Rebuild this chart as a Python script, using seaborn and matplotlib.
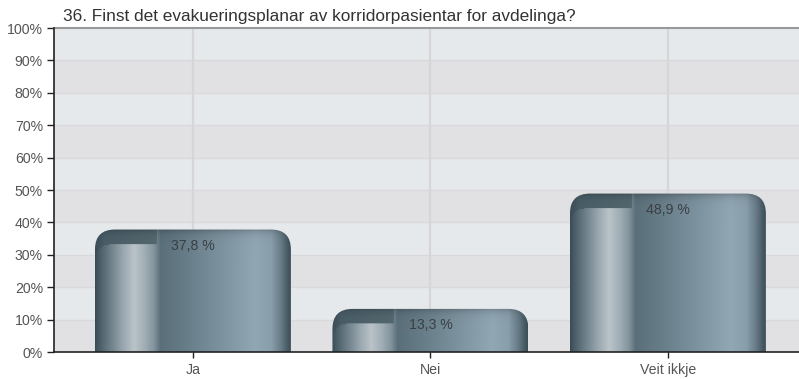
import numpy as np
import pandas as pd
import matplotlib
matplotlib.use("Agg")
import matplotlib.pyplot as plt
import seaborn as sns
from matplotlib.path import Path
from matplotlib.patches import PathPatch
from matplotlib.colors import to_rgb
from matplotlib.ticker import MultipleLocator, FuncFormatter

# ---- data -------------------------------------------------------------
title = "36. Finst det evakueringsplanar av korridorpasientar for avdelinga?"
categories = ["Ja", "Nei", "Veit ikkje"]
percent = [37.8, 13.3, 48.9]
value_labels = ["37,8 %", "13,3 %", "48,9 %"]

df = pd.DataFrame({"svar": categories, "prosent": percent})

sns.set_theme(style="white")
plt.rcParams["font.family"] = ["Liberation Sans", "DejaVu Sans"]

W, H = 799, 379
fig = plt.figure(figsize=(W / 100, H / 100), dpi=100)
ax = fig.add_axes([54 / W, (H - 352) / H, (W - 54) / W, (352 - 28) / H])

bar_w = 0.825
sns.barplot(data=df, x="svar", y="prosent", ax=ax, width=bar_w,
            color="#7d929e", saturation=1, zorder=3)
bars = list(ax.patches)

ax.set_xlim(-0.585, 2.552)
ax.set_ylim(0, 100)

# alternating horizontal bands
for lo in range(0, 100, 10):
    col = "#e1e1e3" if (lo // 10) % 2 == 0 else "#e6e9ec"
    ax.axhspan(lo, lo + 10, color=col, zorder=0, lw=0)
for yv in range(10, 100, 10):
    ax.axhline(yv, color="#d9d9db", lw=1.0, zorder=1)
for xv in range(len(categories)):
    ax.axvline(xv, color="#d6d6d8", lw=1.6, zorder=1)

# ---- gradient bars with rounded tops ------------------------------------
def hexs(lst):
    return [(t, np.array(to_rgb(c))) for t, c in lst]

body_stops = hexs([
    (0.00, "#394c56"), (0.03, "#4e626c"), (0.08, "#6f8089"),
    (0.14, "#97a5ad"), (0.20, "#bac3c8"), (0.25, "#a3b0b7"),
    (0.30, "#84959e"), (0.335, "#5a6f7a"), (0.45, "#657b86"),
    (0.62, "#798f9b"), (0.82, "#91a7b4"), (0.90, "#899eab"),
    (0.95, "#667b86"), (0.985, "#465963"), (1.00, "#3a4d57"),
])
cap_stops = hexs([
    (0.00, "#3a4d57"), (0.05, "#4a5e68"), (0.30, "#53676f"),
    (0.335, "#5a6f7a"), (1.00, "#5a6f7a"),
])

def interp(stops, t):
    ts = np.array([s[0] for s in stops])
    cs = np.array([s[1] for s in stops])
    return np.stack([np.interp(t, ts, cs[:, k]) for k in range(3)], axis=-1)

fig.canvas.draw()
px_per_x = ax.transData.transform((1, 0))[0] - ax.transData.transform((0, 0))[0]
px_per_y = ax.transData.transform((0, 1))[1] - ax.transData.transform((0, 0))[1]
r_px = 20.0
rx, ry = r_px / px_per_x, r_px / px_per_y

for patch in bars:
    x0 = patch.get_x()
    w = patch.get_width()
    h = patch.get_height()
    x1 = x0 + w
    patch.set_visible(False)

    wp = int(round(w * px_per_x))
    hp = max(int(round(h * px_per_y)), 2)
    t = (np.arange(wp) + 0.5) / wp
    body = interp(body_stops, t)
    cap = interp(cap_stops, t)
    img = np.repeat(body[None, :, :], hp, axis=0)

    # dark cap over the inner left panel, with rounded panel corner
    cap_h = 15
    panel_w = 0.315 * wp
    rr = 14
    yy, xx = np.mgrid[0:hp, 0:wp]
    in_left = xx < panel_w
    above = yy < cap_h
    cx, cy = rr, cap_h + rr
    corner = (xx < cx) & (yy < cy) & ((xx - cx) ** 2 + (yy - cy) ** 2 > rr ** 2)
    cap_mask = in_left & (above | corner)
    capimg = np.repeat(cap[None, :, :], hp, axis=0)
    img[cap_mask] = capimg[cap_mask]
    # darker rim along the top edge
    fade = np.clip(1 - 0.22 * np.exp(-yy / 4.0), 0, 1)
    img = img * fade[..., None]

    im = ax.imshow(img, extent=(x0, x1, 0, h), origin="upper",
                   aspect="auto", interpolation="bilinear", zorder=3)
    verts = [
        (x0, 0), (x0, h - ry), (x0, h), (x0 + rx, h),
        (x1 - rx, h), (x1, h), (x1, h - ry), (x1, 0), (x0, 0),
    ]
    codes = [Path.MOVETO, Path.LINETO, Path.CURVE3, Path.CURVE3,
             Path.LINETO, Path.CURVE3, Path.CURVE3, Path.LINETO,
             Path.CLOSEPOLY]
    clip = PathPatch(Path(verts, codes), transform=ax.transData,
                     facecolor="none", edgecolor="none")
    ax.add_patch(clip)
    im.set_clip_path(clip)

ax.set_xlim(-0.585, 2.552)
ax.set_ylim(0, 100)

# value labels inside bar tops
for i, (v, lab) in enumerate(zip(percent, value_labels)):
    ax.text(i, v - 16 / px_per_y, lab, ha="center", va="center",
            fontsize=10.2, color="#3a3f44", zorder=5)

# ---- axes styling --------------------------------------------------------
ax.yaxis.set_major_locator(MultipleLocator(10))
ax.yaxis.set_major_formatter(FuncFormatter(lambda v, p: f"{int(v)}%"))
ax.set_xlabel("")
ax.set_ylabel("")
ax.tick_params(axis="y", left=True, length=5, width=1, color="#222222",
               labelsize=10.2, labelcolor="#555555", pad=3)
ax.tick_params(axis="x", bottom=True, length=4, width=1, color="#222222",
               labelsize=10.2, labelcolor="#555555", pad=4)
for s in ["left", "bottom"]:
    ax.spines[s].set_color("#222222")
    ax.spines[s].set_linewidth(1.2)
ax.spines["top"].set_color("#999999")
ax.spines["top"].set_linewidth(1.5)
ax.spines["right"].set_visible(False)
ax.spines["left"].set_zorder(6)
ax.spines["bottom"].set_zorder(6)

fig.text(63 / W, 1 - 16 / H, title, ha="left", va="center",
         fontsize=12.4, color="#333333")

fig.savefig("out.png", dpi=100)
